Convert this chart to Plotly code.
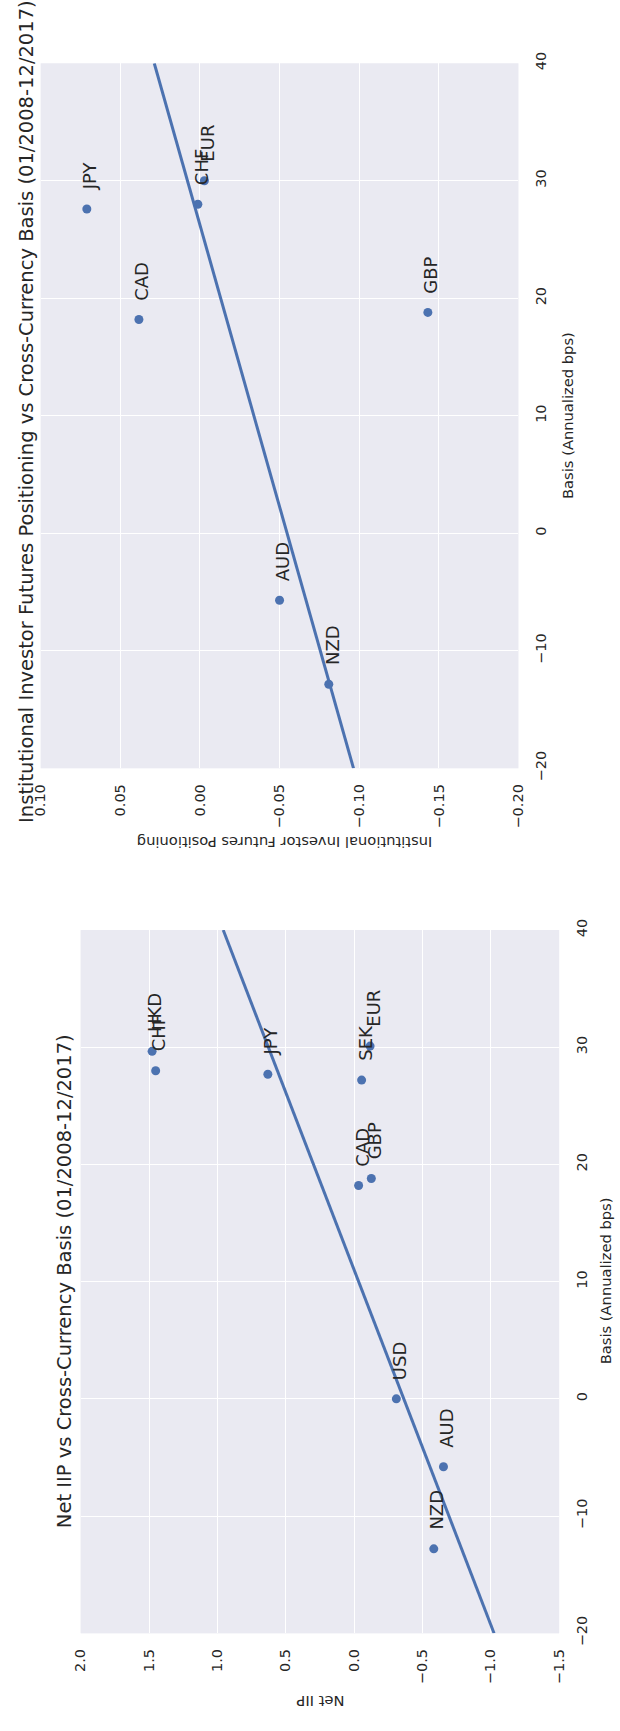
import numpy as np
import plotly.graph_objects as go

# Institutional investor futures positioning vs cross-currency basis
pos_ccy = ["JPY", "CAD", "CHF", "EUR", "GBP", "AUD", "NZD"]
pos_basis = [27.6, 18.2, 28.0, 30.0, 18.8, -5.7, -12.84]
pos_value = [0.071, 0.0383, 0.0013, -0.0028, -0.1431, -0.050, -0.0809]

# Net IIP vs cross-currency basis
iip_ccy = ["HKD", "CHF", "JPY", "SEK", "EUR", "CAD", "GBP", "USD", "AUD", "NZD"]
iip_basis = [29.65, 28.0, 27.7, 27.2, 30.1, 18.2, 18.8, 0.0, -5.8, -12.8]
iip_value = [1.478, 1.452, 0.631, -0.055, -0.117, -0.033, -0.126, -0.309, -0.654, -0.583]

BASIS_RANGE = [-20, 40]
BLUE = "#4C72B0"
BG = "#EAEAF2"
TXT = "#262626"
FONT = "DejaVu Sans"
W, H = 620, 1731


def px_x(p):
    return p / W


def px_y(p):
    return 1 - p / H


fig = go.Figure()


def add_panel(basis, value, names, xs, ys):
    fig.add_trace(go.Scatter(
        x=value, y=basis, mode="markers", xaxis=xs, yaxis=ys,
        marker=dict(color=BLUE, size=9, line=dict(width=0)),
        showlegend=False, hoverinfo="skip"))
    # least-squares fit of value on basis, drawn across the basis axis
    slope, intercept = np.polyfit(basis, value, 1)
    bb = np.array(BASIS_RANGE, dtype=float)
    fig.add_trace(go.Scatter(
        x=slope * bb + intercept, y=bb, mode="lines", xaxis=xs, yaxis=ys,
        line=dict(color=BLUE, width=3), showlegend=False, hoverinfo="skip"))
    for n, b, v in zip(names, basis, value):
        fig.add_annotation(
            x=v, y=b, xref=xs, yref=ys, text=n, showarrow=False,
            textangle=-90, xanchor="center", yanchor="bottom",
            xshift=3, yshift=17,
            font=dict(family=FONT, size=18, color=TXT))


add_panel(pos_basis, pos_value, pos_ccy, "x", "y")
add_panel(iip_basis, iip_value, iip_ccy, "x2", "y2")

tick_font = dict(family=FONT, size=14.5, color=TXT)
common = dict(showgrid=True, gridcolor="white", gridwidth=1.3, zeroline=False,
              showline=False, ticks="outside", ticklen=9,
              tickcolor="rgba(0,0,0,0)", tickfont=tick_font, tickangle=-90)

fig.update_layout(
    width=W, height=H, margin=dict(l=0, r=0, t=0, b=0),
    paper_bgcolor="white", plot_bgcolor=BG,
    xaxis=dict(domain=[px_x(33.5), px_x(524)], range=[0.10, -0.20],
               tick0=0, dtick=0.05, tickformat=".2f", anchor="y", **common),
    yaxis=dict(domain=[px_y(768), px_y(53)], range=BASIS_RANGE,
               tick0=0, dtick=10, side="right", anchor="x", **common),
    xaxis2=dict(domain=[px_x(74.7), px_x(565.7)], range=[2.0, -1.5],
                tick0=0, dtick=0.5, tickformat=".1f", anchor="y2", **common),
    yaxis2=dict(domain=[px_y(1645), px_y(932)], range=BASIS_RANGE,
                tick0=0, dtick=10, side="right", anchor="x2", **common),
)

# shading drawn behind the second panel
fig.add_shape(type="rect", xref="x2 domain", yref="y2 domain", x0=0, x1=1,
              y0=0, y1=1, fillcolor=BG, line=dict(width=0), layer="below")

label_font = dict(family=FONT, size=14.7, color=TXT)
title_font = dict(family=FONT, size=19.5, color=TXT)

texts = [
    # panel titles
    dict(text="Institutional Investor Futures Positioning vs Cross-Currency Basis (01/2008-12/2017)",
         x=19, y=406, angle=-90, font=title_font),
    dict(text="Net IIP vs Cross-Currency Basis (01/2008-12/2017)",
         x=57.5, y=1288, angle=-90, font=title_font),
    # basis axis titles
    dict(text="Basis (Annualized bps)", x=575, y=410.5, angle=-90, font=label_font),
    dict(text="Basis (Annualized bps)", x=613, y=1288, angle=-90, font=label_font),
    # value axis titles
    dict(text="Institutional Investor Futures Positioning", x=284, y=843,
         angle=180, font=label_font),
    dict(text="Net IIP", x=321, y=1715, angle=180, font=label_font),
]
for t in texts:
    fig.add_annotation(x=px_x(t["x"]), y=px_y(t["y"]), xref="paper", yref="paper",
                       text=t["text"], showarrow=False, textangle=t["angle"],
                       xanchor="center", yanchor="middle", font=t["font"])

# keep the figure flush with the page corner
fig.write_html("out.html", post_script="document.body.style.margin='0';")
